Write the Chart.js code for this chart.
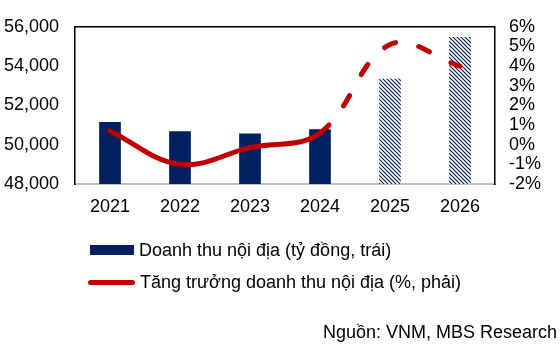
<!DOCTYPE html>
<html>
<head>
<meta charset="utf-8">
<script src="https://cdn.jsdelivr.net/npm/chart.js@4.4.1/dist/chart.umd.min.js"></script>
<style>
  html, body { margin: 0; padding: 0; background: #fff; }
  #wrap { position: relative; width: 560px; height: 349px; font-family: "Liberation Sans", Arial, sans-serif; color: #000; }
  canvas { position: absolute; left: 0; top: 0; }
  .leg { position: absolute; left: 88px; font-size: 18px; line-height: 22px; white-space: nowrap; display: flex; align-items: center; }
  .sw { display: inline-block; margin-right: 5px; }
  #src { position: absolute; right: 3px; top: 321px; font-size: 18px; line-height: 22px; white-space: nowrap; }
</style>
</head>
<body>
<div id="wrap">
  <canvas id="chart" width="560" height="349"></canvas>
  <div class="leg" style="top:239px;"><span class="sw" style="width:44px;height:10px;background:#002060;margin-left:2px;"></span>Doanh thu nội địa (tỷ đồng, trái)</div>
  <div class="leg" style="top:271px;"><span class="sw" style="width:47px;height:5px;background:#c00000;border-radius:3px;"></span>Tăng trưởng doanh thu nội địa (%, phải)</div>
  <div id="src">Nguồn: VNM, MBS Research</div>
</div>
<script>
const years = ["2021", "2022", "2023", "2024", "2025", "2026"];
const revenue = [51150, 50680, 50570, 50780, 53360, 55480];
const growth = [0.7, -1.0, -0.15, 0.6, 5.1, 4.0];
const forecastFrom = 4; // 2025 onwards are forecasts

const ctx = document.getElementById("chart").getContext("2d");

// diagonal hatch for forecast bars
const pc = document.createElement("canvas");
pc.width = 4;
pc.height = 4;
const p = pc.getContext("2d");
p.fillStyle = "#fff";
p.fillRect(0, 0, 4, 4);
p.strokeStyle = "#002060";
p.lineWidth = 1.2;
p.beginPath();
p.moveTo(-1, -1); p.lineTo(5, 5);
p.moveTo(-1, 3); p.lineTo(1, 5);
p.moveTo(3, -1); p.lineTo(5, 1);
p.stroke();
const hatch = ctx.createPattern(pc, "repeat");

const topBorder = {
  id: "topBorder",
  afterDraw(chart) {
    const a = chart.chartArea;
    const c = chart.ctx;
    c.save();
    c.strokeStyle = "#000";
    c.lineWidth = 1.5;
    c.beginPath();
    c.moveTo(a.left, a.top);
    c.lineTo(a.right, a.top);
    c.stroke();
    c.restore();
  }
};

const tickFont = { family: "Liberation Sans", size: 18 };

const chart = new Chart(ctx, {
  data: {
    labels: years,
    datasets: [
      {
        type: "line",
        label: "Tăng trưởng doanh thu nội địa (%, phải)",
        data: growth,
        yAxisID: "y1",
        borderColor: "#c00000",
        borderWidth: 5,
        borderCapStyle: "round",
        pointRadius: 0,
        tension: 0.38,
        order: 0,
        segment: {
          borderDash: (s) => (s.p0DataIndex >= forecastFrom - 1 ? [12, 24] : undefined),
        },
      },
      {
        type: "bar",
        label: "Doanh thu nội địa (tỷ đồng, trái)",
        data: revenue,
        yAxisID: "y",
        backgroundColor: revenue.map((v, i) => (i >= forecastFrom ? hatch : "#002060")),
        barPercentage: 0.31,
        categoryPercentage: 1,
        order: 1,
      },
    ],
  },
  options: {
    responsive: false,
    animation: false,
    layout: { padding: { top: 14, bottom: 130, left: 0, right: 0 } },
    plugins: { legend: { display: false }, tooltip: { enabled: false } },
    scales: {
      x: {
        grid: { display: false, drawTicks: false },
        border: { color: "#bfbfbf", width: 2 },
        ticks: { color: "#000", font: tickFont, padding: 12 },
        afterFit: (s) => { s.height = 35; },
      },
      y: {
        position: "left",
        min: 48000,
        max: 56000,
        grid: { display: false, drawTicks: false },
        border: { color: "#000", width: 1.5 },
        ticks: {
          stepSize: 2000,
          autoSkip: false,
          color: "#000",
          padding: 16,
          font: tickFont,
          callback: (v) => v.toLocaleString("en-US"),
        },
        afterFit: (s) => { s.width = 75; },
      },
      y1: {
        position: "right",
        min: -2,
        max: 6,
        grid: { display: false, drawTicks: false },
        border: { color: "#000", width: 1.5 },
        ticks: {
          stepSize: 1,
          autoSkip: false,
          color: "#000",
          padding: 14,
          font: tickFont,
          callback: (v) => v + "%",
        },
        afterFit: (s) => { s.width = 65; },
      },
    },
  },
  plugins: [topBorder],
});
</script>
</body>
</html>
